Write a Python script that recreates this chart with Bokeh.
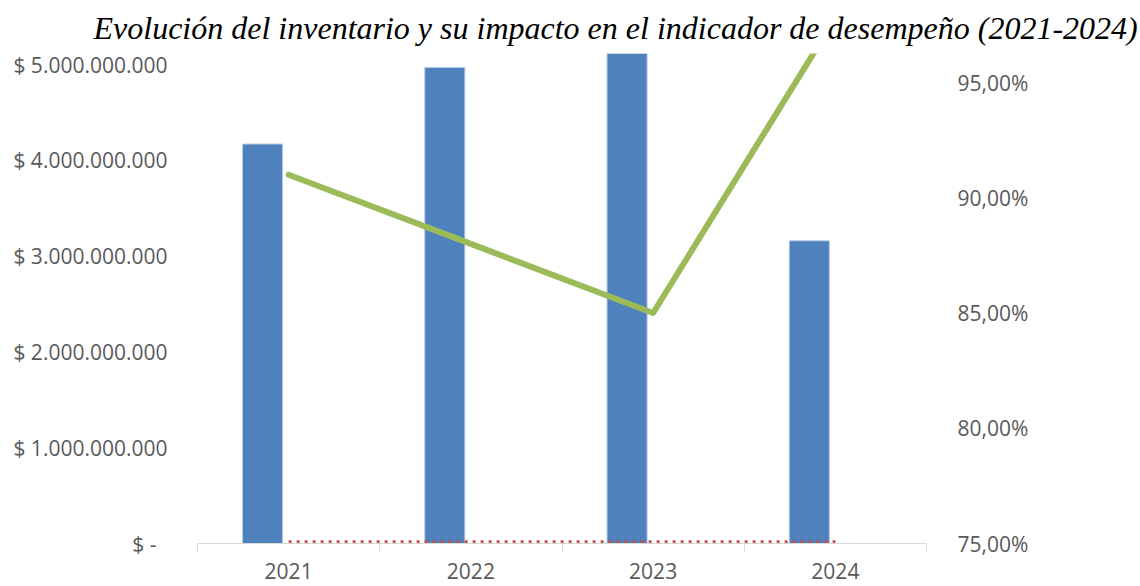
import numpy as np
from bokeh.plotting import figure
from bokeh.models import (Range1d, LinearAxis, FixedTicker, ColumnDataSource)
from bokeh.embed import file_html
from bokeh.resources import INLINE

# ---- data ----
years = ["2021", "2022", "2023", "2024"]
inventario = [4.17e9, 4.97e9, 5.15e9, 3.16e9]       # $ (left axis)
indicador = [91.0, 88.0, 85.0, 97.8]               # % (right axis)
serie_roja = [1.8e7, 1.8e7, 1.8e7, 1.8e7]          # dotted series, practically zero

left_ticks = [0, 1e9, 2e9, 3e9, 4e9, 5e9]
left_labels = ["$ -\u00a0\u00a0", "$ 1.000.000.000", "$ 2.000.000.000",
               "$ 3.000.000.000", "$ 4.000.000.000", "$ 5.000.000.000"]
right_ticks = [75, 80, 85, 90, 95]
right_labels = ["75,00%", "80,00%", "85,00%", "90,00%", "95,00%"]

title_text = "Evolución del inventario y su impacto en el indicador de desempeño (2021-2024)"

# ---- positions ----
n = len(years)
centers = np.arange(n) + 0.5
bar_x = centers - 0.143

src = ColumnDataSource(dict(x=list(centers), bx=list(bar_x), inv=inventario,
                            ind=indicador, roja=serie_roja))

TICK_FONT = "Open Sans"
TICK_COLOR = "#595959"
TICK_SIZE = "21px"

p = figure(width=1140, height=586, output_backend="svg", toolbar_location=None,
           x_range=Range1d(0, n), y_range=Range1d(0, 5.115e9),
           min_border_left=197, min_border_right=214,
           min_border_top=52, min_border_bottom=43)
p.extra_y_ranges = {"pct": Range1d(75, 96.26)}

p.xgrid.visible = False
p.ygrid.visible = False
p.outline_line_color = None
p.background_fill_color = "white"
p.border_fill_color = "white"

# title
p.title.text = title_text
p.title.text_font = "Liberation Serif"
p.title.text_font_style = "italic"
p.title.text_font_size = "32px"
p.title.text_color = "black"
p.title.align = "left"
p.title.offset = -104
p.title.standoff = 15

# x axis: year labels at category centres, tick marks at category boundaries
xa = p.xaxis[0]
xa.ticker = FixedTicker(ticks=list(centers), minor_ticks=list(np.arange(n + 1)))
xa.major_label_overrides = {float(c): y for c, y in zip(centers, years)}
xa.axis_line_color = "#d9d9d9"
xa.axis_line_width = 1
xa.major_tick_line_color = None
xa.major_tick_out = 0
xa.major_tick_in = 0
xa.minor_tick_line_color = "#d9d9d9"
xa.minor_tick_out = 8
xa.minor_tick_in = 0
xa.major_label_text_font = TICK_FONT
xa.major_label_text_font_size = TICK_SIZE
xa.major_label_text_color = TICK_COLOR
xa.major_label_standoff = 11

# left axis
ya = p.yaxis[0]
ya.ticker = FixedTicker(ticks=left_ticks)
ya.major_label_overrides = {float(t): l for t, l in zip(left_ticks, left_labels)}
ya.axis_line_color = None
ya.major_tick_line_color = None
ya.minor_tick_line_color = None
ya.major_label_text_font = TICK_FONT
ya.major_label_text_font_size = TICK_SIZE
ya.major_label_text_color = TICK_COLOR
ya.major_label_standoff = 24

# right axis
ra = LinearAxis(y_range_name="pct")
ra.ticker = FixedTicker(ticks=right_ticks)
ra.major_label_overrides = {float(t): l for t, l in zip(right_ticks, right_labels)}
ra.axis_line_color = None
ra.major_tick_line_color = None
ra.minor_tick_line_color = None
ra.major_label_text_font = TICK_FONT
ra.major_label_text_font_size = TICK_SIZE
ra.major_label_text_color = TICK_COLOR
ra.major_label_standoff = 25
p.add_layout(ra, "right")

# bars
p.vbar(x="bx", top="inv", bottom=0, width=0.22, source=src,
       fill_color="#4f81bd", line_color="#b9cde5", line_width=1)

# red dotted series
p.line(x="x", y="roja", source=src, line_color="#c0504d", line_width=3,
       line_dash="3 5")

# green indicator line
p.line(x="x", y="ind", source=src, y_range_name="pct", line_color="#9bbb59",
       line_width=6, line_cap="round", line_join="round")

open("out.html", "w").write(file_html(p, INLINE))
